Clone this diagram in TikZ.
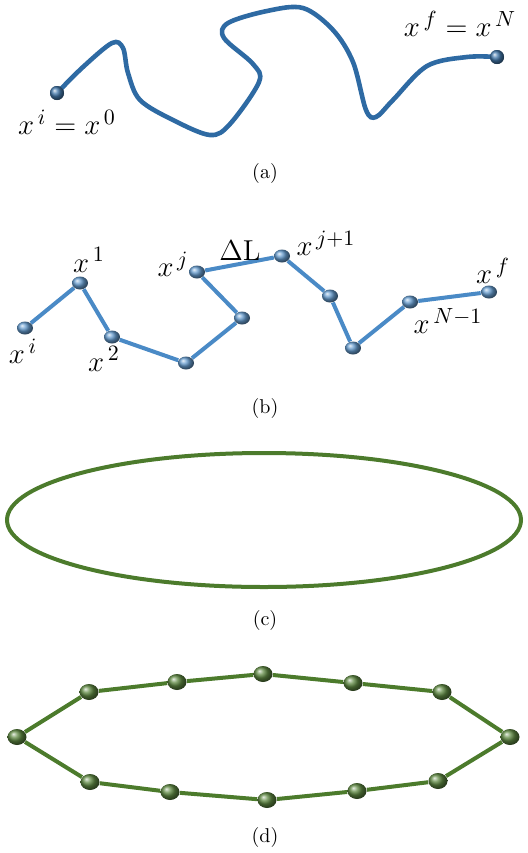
\documentclass[tikz,border=0pt]{standalone}
\usepackage{amsmath}
\usetikzlibrary{shapes.geometric}
\definecolor{curveblue}{HTML}{2E6AA3}
\definecolor{beadblue}{HTML}{4A8AC6}
\definecolor{ringgreen}{HTML}{4C7B2C}
\tikzstyle{bluebead}=[ellipse, inner sep=0pt, minimum width=8pt, minimum height=6.5pt, ball color=beadblue!85!white, draw=none]
\tikzstyle{endbead}=[circle, inner sep=0pt, minimum size=7pt, ball color=curveblue!90!white, draw=none]
\tikzstyle{greenbead}=[ellipse, inner sep=0pt, minimum width=9.5pt, minimum height=8pt, ball color=ringgreen!90!white, draw=none]
\tikzstyle{lbl}=[font=\fontsize{15}{18}\selectfont, inner sep=1pt]
\tikzstyle{subcap}=[font=\normalsize]

\begin{document}
\begin{tikzpicture}[x=0.5pt, y=-0.5pt]
    \useasboundingbox (0,0) rectangle (527,853);
    % (a)
    \node[endbead] (a0) at (57,93) {};
    \node[endbead] (aN) at (497,57) {};
    \draw[curveblue, line width=2.3pt, line cap=round] plot[smooth, tension=0.55] coordinates {
        (57,93) (83,67) (112,43) (123,48) (128,73) (140,100) (173,120) (210,135)
        (230,124) (259,82) (253,64) (224,38) (228,23) (267,11) (303,8) (333,30)
        (353,62) (366,110) (376,117) (393,100) (427,66) (467,57) (497,57)};
    \node[endbead] at (a0) {};
    \node[endbead] at (aN) {};
    \node[lbl] (la0) at (67,122) {$x^{\,i}=x^{\,0}$};
    \node[lbl] (laN) at (460,24) {$x^{\,f}=x^{\,N}$};
    \node[subcap] (capa) at (265,173) {(a)};
    % (b)
    \node[bluebead] (b1) at (25,328) {};
    \node[bluebead] (b2) at (80,283) {};
    \node[bluebead] (b3) at (112,337) {};
    \node[bluebead] (b4) at (186,363) {};
    \node[bluebead] (b5) at (242,318) {};
    \node[bluebead] (b6) at (197,272) {};
    \node[bluebead] (b7) at (282,256) {};
    \node[bluebead] (b8) at (330,296) {};
    \node[bluebead] (b9) at (353,348) {};
    \node[bluebead] (b10) at (410,302) {};
    \node[bluebead] (b11) at (489,292) {};
    \foreach \p/\q in {b1/b2, b2/b3, b3/b4, b4/b5, b5/b6, b6/b7, b7/b8, b8/b9, b9/b10, b10/b11}
        \draw[beadblue, line width=2pt] (\p) -- (\q);
    \node[lbl] (lb1) at (23,351) {$x^{\,i}$};
    \node[lbl] (lb2) at (89,260) {$x^{\,1}$};
    \node[lbl] (lb3) at (104,359) {$x^{\,2}$};
    \node[lbl] (lb6) at (173,264) {$x^{\,j}$};
    \node[lbl] (ldl) at (240,251) {$\Delta\mathrm{L}$};
    \node[lbl] (lb7) at (326,243) {$x^{\,j+1}$};
    \node[lbl] (lb10) at (448,321) {$x^{\,N-1}$};
    \node[lbl] (lb11) at (493,271) {$x^{\,f}$};
    \node[subcap] (capb) at (265,408) {(b)};
    % (c)
    \draw[ringgreen, line width=2pt] (264,520) ellipse [x radius=257, y radius=67];
    \node[subcap] (capc) at (265,620) {(c)};
    % (d)
    \node[greenbead] (d1) at (17,737) {};
    \node[greenbead] (d2) at (89,692) {};
    \node[greenbead] (d3) at (177,682) {};
    \node[greenbead] (d4) at (263,674) {};
    \node[greenbead] (d5) at (353,683) {};
    \node[greenbead] (d6) at (442,692) {};
    \node[greenbead] (d7) at (510,737) {};
    \node[greenbead] (d8) at (438,781) {};
    \node[greenbead] (d9) at (357,791) {};
    \node[greenbead] (d10) at (267,800) {};
    \node[greenbead] (d11) at (170,792) {};
    \node[greenbead] (d12) at (90,782) {};
    \foreach \p/\q in {d1/d2, d2/d3, d3/d4, d4/d5, d5/d6, d6/d7, d7/d8, d8/d9, d9/d10, d10/d11, d11/d12, d12/d1}
        \draw[ringgreen, line width=2pt] (\p) -- (\q);
    \node[subcap] (capd) at (265,837) {(d)};
\end{tikzpicture}
\end{document}
